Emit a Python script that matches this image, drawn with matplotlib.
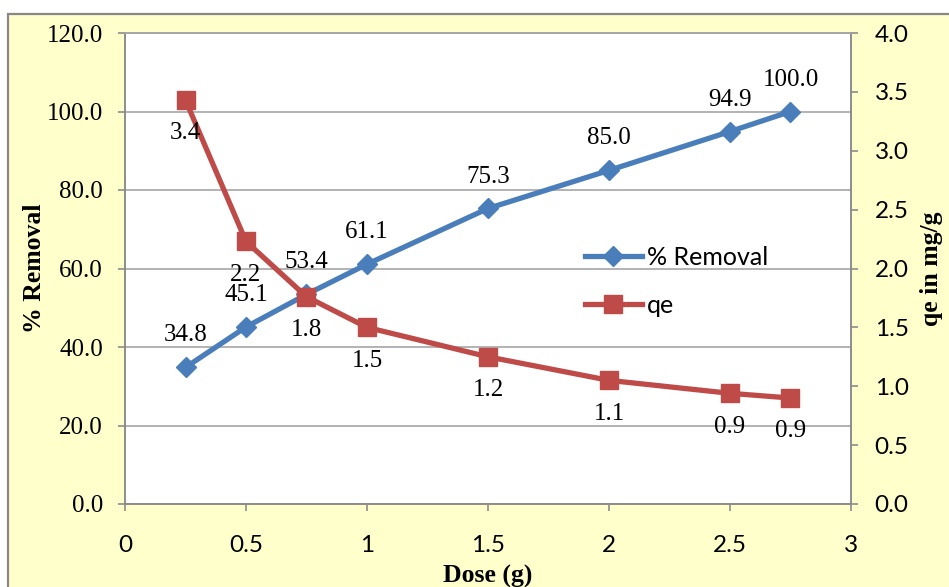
import numpy as np
import matplotlib
matplotlib.use('Agg')
import matplotlib.pyplot as plt
from matplotlib.patches import Rectangle
from matplotlib.ticker import FuncFormatter, MultipleLocator

dose = [0.25, 0.5, 0.75, 1, 1.5, 2, 2.5, 2.75]
removal = [34.8, 45.1, 53.4, 61.1, 75.3, 85.0, 94.9, 100.0]
qe = [3.43, 2.23, 1.76, 1.50, 1.25, 1.05, 0.94, 0.90]
qe_labels = ['3.4', '2.2', '1.8', '1.5', '1.2', '1.1', '0.9', '0.9']

blue = '#4A7EBB'
red = '#BE4B48'
axis_grey = '#8C8C8C'
serif = 'Liberation Serif'
sans = 'Lato'

fig = plt.figure(figsize=(9.49, 5.87), dpi=100, facecolor='white')
# chart area (yellow, grey frame, clipped at right/bottom)
fig.patches.append(Rectangle((8/949, -0.1), 1.2, 1.1 - 14/587, transform=fig.transFigure,
                             facecolor='#FFFFCC', edgecolor='#888888', linewidth=1.6, zorder=-10))

ax = fig.add_axes([125/949, 1 - 504/587, (851 - 125)/949, (504 - 33)/587])
ax.set_facecolor('white')
ax2 = ax.twinx()

ax.plot(dose, removal, color=blue, lw=3.8, marker='D', ms=10, label='% Removal', zorder=3)
ax2.plot(dose, qe, color=red, lw=3.8, marker='s', ms=13.5, label='qe', zorder=3)

for x, y in zip(dose, removal):
    ax.annotate('%.1f' % y, (x, y), xytext=(0, 23), textcoords='offset points',
                ha='center', va='center', fontsize=18, family=serif)
for x, y, t in zip(dose, qe, qe_labels):
    ax2.annotate(t, (x, y), xytext=(0, -24), textcoords='offset points',
                 ha='center', va='center', fontsize=18, family=serif)

ax.set_xlim(0, 3)
ax.set_ylim(0, 120)
ax2.set_ylim(0, 4)
ax.xaxis.set_major_locator(MultipleLocator(0.5))
ax.yaxis.set_major_locator(MultipleLocator(20))
ax2.yaxis.set_major_locator(MultipleLocator(0.5))
ax.xaxis.set_major_formatter(FuncFormatter(lambda v, p: '%g' % v))
ax.yaxis.set_major_formatter(FuncFormatter(lambda v, p: '%.1f' % v))
ax2.yaxis.set_major_formatter(FuncFormatter(lambda v, p: '%.1f' % v))

ax.grid(axis='y', color='#A6A6A6', lw=1.2)
ax.set_axisbelow(True)

for a in (ax, ax2):
    for s in a.spines.values():
        s.set_color(axis_grey)
        s.set_linewidth(1.2)
    a.spines['top'].set_color('#A6A6A6')

ax.tick_params(axis='y', direction='out', length=5, width=1.2, color=axis_grey, pad=11,
               labelsize=18)
ax.tick_params(axis='x', direction='out', length=5, width=1.2, color=axis_grey, pad=17,
               labelsize=17.5)
ax2.tick_params(axis='y', direction='out', length=5, width=1.2, color=axis_grey, pad=12,
                labelsize=17.5)
for lb in ax.get_yticklabels():
    lb.set_family(serif)
for lb in ax.get_xticklabels() + ax2.get_yticklabels():
    lb.set_family(sans)

ax.set_xlabel('Dose (g)', family=serif, fontsize=18.5, fontweight='bold', labelpad=7)
ax.set_ylabel('% Removal', family=serif, fontsize=18.5, fontweight='bold', labelpad=0.5)
ax2.set_ylabel('qe in mg/g', family=serif, fontsize=18.5, fontweight='bold', labelpad=8)

h1, l1 = ax.get_legend_handles_labels()
h2, l2 = ax2.get_legend_handles_labels()
ax2.legend(h1 + h2, l1 + l2, loc='upper left', bbox_to_anchor=(0.633, 0.548),
           frameon=False, prop={'family': sans, 'size': 18}, handlelength=2.3,
           handletextpad=0.2, labelspacing=1.0, borderaxespad=0, borderpad=0)

fig.savefig('out.png', dpi=100, facecolor='white')
